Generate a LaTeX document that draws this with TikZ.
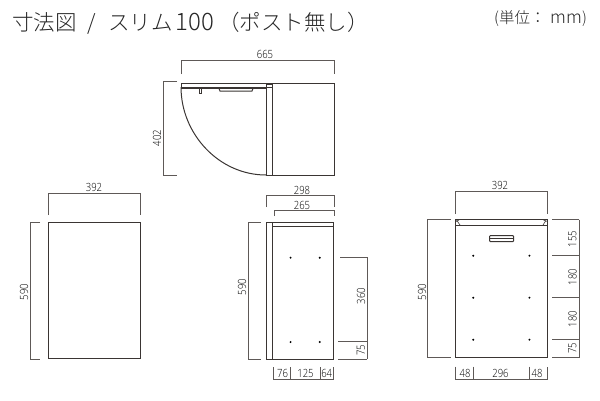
\documentclass[tikz,border=0pt]{standalone}
\usepackage{fontspec}
\setmainfont{Open Sans Light}[FakeStretch=0.84]
\newfontfamily\cjk{Noto Sans CJK JP Light}
\definecolor{ink}{HTML}{3A3533}
\definecolor{dimc}{HTML}{5E5957}
\tikzset{
  body/.style={draw=ink,line width=1pt},
  thin/.style={draw=ink,line width=0.6pt},
  dimline/.style={draw=dimc,line width=0.8pt},
  num/.style={inner sep=0pt,text=black,font=\fontsize{11.3}{12}\selectfont},
  vnum/.style={num,rotate=90}
}
\begin{document}
\begin{tikzpicture}[x=1pt,y=-1pt]
\useasboundingbox (0,0) rectangle (600,400);
% titles
\node[anchor=west,inner sep=0pt,text=black!85,font=\fontsize{21.5}{22}\selectfont\cjk] (title) at (12,23) {寸法図\hspace{11pt}/\hspace{12pt}スリム\hspace{3pt}{\fontsize{24}{24}\selectfont 100}\hspace{4pt}（ポスト無し）};
\node[anchor=west,inner sep=0pt,text=black!85,font=\fontsize{15.5}{16}\selectfont\cjk] (unit) at (494,19) {(単位：\hspace{5pt}{\fontsize{17.5}{16}\selectfont mm})};
% top view
\draw[dimline] (181,74)--(181,60)--(334,60)--(334,74);
\node[num] (a665) at (265,54) {665};
\draw[dimline] (177,81)--(163.5,81)--(163.5,175)--(177,175);
\node[vnum] (a402) at (157,138) {402};
\draw[body] (272,83) rectangle (334,175);
\draw[thin] (181,83)--(272,83);
\draw[thin] (181,87)--(272,87);
\draw[thin] (181,84)--(181,87);
\draw[thin] (266,84) rectangle (272,175);
\draw[body] (181,87) .. controls (181,134) and (219,175) .. (266,175);
\draw[thin] (181,88)--(199,88);
\draw[body] (199,93)--(199,88)--(212,88);
\draw[thin] (201,89)--(201,93)--(199,93);
\draw[body] (219,88.5)--(220,91)--(252,91)--(253,88.5);
\draw[thin] (212,88)--(266,88);
% left view
\draw[dimline] (48,215)--(48,193.5)--(140,193.5)--(140,215);
\node[num] (b392) at (94,187) {392};
\draw[dimline] (40,222)--(30,222)--(30,359)--(40,359);
\node[vnum] (b590) at (24,292) {590};
\draw[body] (48.5,222) rectangle (140,358.5);
% middle view
\draw[dimline] (266.5,207)--(266.5,195.5)--(334.5,195.5)--(334.5,207);
\node[num] (c298) at (302,190) {298};
\draw[dimline] (274,216)--(274,210.5)--(334.5,210.5)--(334.5,216);
\node[num] (c265) at (302,205) {265};
\draw[dimline] (261,222)--(248.5,222)--(248.5,359)--(261,359);
\node[vnum] (c590) at (242,287) {590};
\draw[body] (272.7,222) rectangle (333.7,359);
\draw[thin] (272.7,226)--(333.7,226);
\draw[thin] (266,222) rectangle (271.8,359);
\draw[body] (272.4,222)--(272.4,359);
\foreach \px in {290.6,319.8}\foreach \py in {257.7,342}\fill[black] (\px,\py) circle (1.1);
\draw[dimline] (340,257.6)--(367,257.6)--(367,359);
\draw[dimline] (338,341.6)--(367,341.6);
\draw[dimline] (338,359)--(367,359);
\node[vnum] (c360) at (361,296) {360};
\node[vnum] (c75) at (361,350) {75};
\draw[dimline] (273,367)--(273,379.3)--(333.7,379.3)--(333.7,367);
\draw[dimline] (290.7,367)--(290.7,379.3);
\draw[dimline] (320,367)--(320,379.3);
\node[num] (c76) at (282.5,373.5) {76};
\node[num] (c125) at (305.5,373.5) {125};
\node[num] (c64) at (326.7,373.5) {64};
% right view
\draw[dimline] (455.7,214)--(455.7,191)--(547,191)--(547,214);
\node[num] (d392) at (500,185) {392};
\draw[dimline] (451,219.5)--(427.7,219.5)--(427.7,357.5)--(451,357.5);
\node[vnum] (d590) at (422,292) {590};
\draw[body] (455.7,219.5) rectangle (547,357.5);
\draw[thin] (455.7,225)--(547,225);
\draw[thin] (456.5,220)--(460,225);
\draw[thin] (546.2,220)--(543,225);
\draw[thin] (456,221.5)--(459,220);
\draw[thin] (546.5,221.5)--(543.5,220);
\draw[body,rounded corners=1pt] (489.5,235.5) rectangle (513.7,241.7);
\draw[thin] (489.5,238)--(513.7,238);
\foreach \px in {473.2,529.4}\foreach \py in {255.7,297.7,339.7}\fill[black] (\px,\py) circle (1.1);
\foreach \py in {219.5,255.7,297.7,339.7,357.5}\draw[dimline] (552,\py)--(579,\py);
\draw[dimline] (579,219.5)--(579,357.5);
\node[vnum] (d155) at (572.5,239) {155};
\node[vnum] (d180a) at (572.5,277) {180};
\node[vnum] (d180b) at (572.5,319) {180};
\node[vnum] (d75) at (572.5,348) {75};
\draw[dimline] (455.7,366.5)--(455.7,379)--(547,379)--(547,366.5);
\draw[dimline] (473.2,366.5)--(473.2,379);
\draw[dimline] (529.4,366.5)--(529.4,379);
\node[num] (d48a) at (465,373.5) {48};
\node[num] (d296) at (500.5,373.5) {296};
\node[num] (d48b) at (537,373.5) {48};
\end{tikzpicture}
\end{document}
